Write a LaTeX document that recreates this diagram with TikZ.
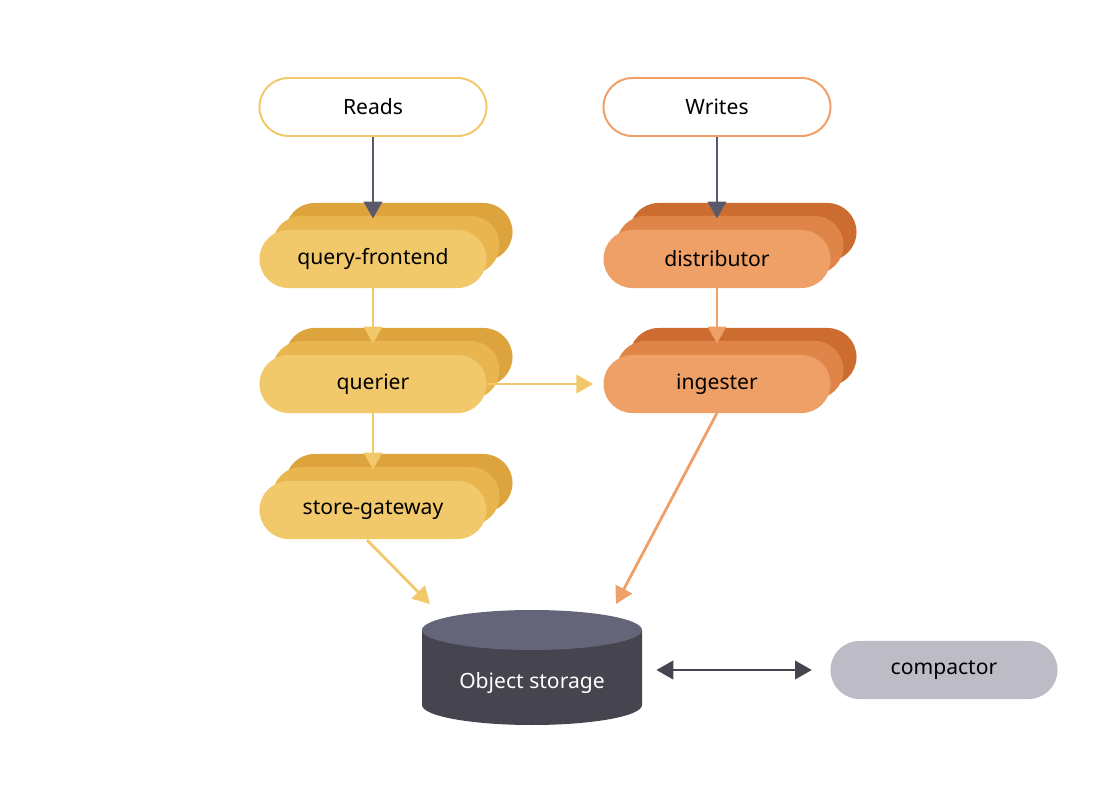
\documentclass[tikz,border=0pt]{standalone}
\usepackage{fontspec}
\setmainfont{Noto Sans}
\usetikzlibrary{arrows.meta}
\definecolor{ylw}{HTML}{F2C96A}
\definecolor{ylwm}{HTML}{E8B54E}
\definecolor{ylwb}{HTML}{DDA33C}
\definecolor{org}{HTML}{EEA066}
\definecolor{orgm}{HTML}{E0854A}
\definecolor{orgb}{HTML}{CC6C30}
\definecolor{stotop}{HTML}{646579}
\definecolor{stobody}{HTML}{45444F}
\definecolor{cmp}{HTML}{BCBBC6}
\definecolor{darr}{HTML}{585A6C}
\tikzset{%
    pill/.style={rectangle, rounded corners=0.725cm, minimum width=5.675cm, minimum height=1.45cm,
        font=\fontsize{15}{18}\selectfont, text=black},
    inp/.style={pill, draw=#1, line width=1.4pt, fill=white},
    svc/.style={pill, fill=#1},
    dkar/.style={line width=2pt, draw=darr, -{Triangle[width=13pt,length=12pt]}},
    cla/.style={line width=2pt, draw=#1, -{Triangle[width=13pt,length=12pt]}},
    dbar/.style={line width=2pt, draw=stobody, {Triangle[width=13pt,length=12pt]}-{Triangle[width=13pt,length=12pt]}},
}
\begin{document}
\begin{tikzpicture}[x=0.025cm, y=-0.025cm]
    \useasboundingbox (0,0) rectangle (1120,788);
    \node[inp=ylw] (reads) at (373,107) {Reads};
    \node[inp=org] (writes) at (717,107) {Writes};
    % stacked services
    \foreach \nm/\px/\py/\cf/\cm/\cb/\txt in {qf/373/259/ylw/ylwm/ylwb/query-frontend,
        querier/373/384/ylw/ylwm/ylwb/querier, sgw/373/510/ylw/ylwm/ylwb/store-gateway,
        dist/717/259/org/orgm/orgb/distributor, ing/717/384/org/orgm/orgb/ingester}{
        \node[svc=\cb] at (\px+26,\py-27) {};
        \node[svc=\cm] at (\px+13,\py-14) {};
        \node[svc=\cf] (\nm) at (\px,\py) {\txt};
    }
    % object storage
    \fill[stobody] (422,630) -- (422,705) arc[start angle=180, end angle=0, x radius=110, y radius=20] -- (642,630) -- cycle;
    \fill[stotop] (532,630) ellipse[x radius=110, y radius=20];
    \node[minimum width=5.5cm, minimum height=2.9cm] (store) at (532,670) {};
    \node[font=\fontsize{15}{18}\selectfont, text=white] (storetxt) at (532,683) {Object storage};
    \node[svc=cmp] (compactor) at (944,670) {compactor};
    % connectors
    \draw[dkar, shorten >=8pt] (reads) -- (qf.north);
    \draw[dkar, shorten >=8pt] (writes) -- (dist.north);
    \draw[cla=ylw, shorten >=8pt] (qf) -- (querier.north);
    \draw[cla=ylw, shorten >=8pt] (querier) -- (sgw.north);
    \draw[cla=org, shorten >=8pt] (dist) -- (ing.north);
    \draw[cla=ylw, shorten >=7pt] (querier.east) -- (ing.west);
    \coordinate (sgwout) at (367,540);
    \coordinate (stoin1) at (430,604);
    \coordinate (ingout) at (717,413);
    \coordinate (stoin2) at (616,604);
    \draw[cla=ylw] (sgwout) -- (stoin1);
    \draw[cla=org] (ingout) -- (stoin2);
    \draw[dbar, shorten <=10pt, shorten >=13pt] (store.east) -- (compactor.west);
\end{tikzpicture}
\end{document}
